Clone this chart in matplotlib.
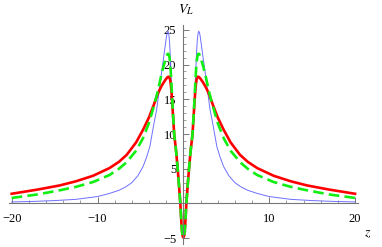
import numpy as np
import matplotlib
matplotlib.use('Agg')
import matplotlib.pyplot as plt

# values (right half, curves are symmetric in z)
z_blue = [0, 0.1, 0.2, 0.28, 0.35, 0.5, 0.66, 0.85, 1.07, 1.3, 1.48, 1.55, 1.62, 1.7, 1.79,
          1.88, 1.97, 2.08, 2.2, 2.5, 2.8, 3.1, 3.5, 3.9, 4.3, 4.7, 5.3, 6.0, 6.7, 7.5,
          8.6, 10, 12.5, 15, 17.5, 20]
v_blue = [-4.9, -4.6, -3.4, -1.6, 0, 2.5, 5, 7.6, 10, 15, 20, 22, 23.4, 24.4, 24.8,
          24.6, 24.0, 23.0, 21.9, 19.2, 16.4, 13.6, 11.0, 8.2, 6.6, 5.3, 4.0, 3.0, 2.4, 1.9,
          1.45, 1.0, 0.6, 0.42, 0.3, 0.22]

z_red = [0, 0.1, 0.2, 0.28, 0.35, 0.5, 0.66, 0.85, 1.07, 1.3, 1.38, 1.45, 1.52, 1.6, 1.7,
         1.82, 2.0, 2.25, 2.5, 2.75, 3.0, 3.5, 4.0, 4.7, 5.5, 6.6, 7.5, 8.6, 10.5, 12.5,
         14.4, 17, 20]
v_red = [-4.9, -4.6, -3.4, -1.6, 0, 2.5, 5, 7.6, 10, 14.6, 16.0, 17.0, 17.7, 18.1, 18.25,
         18.2, 17.95, 17.5, 17.0, 16.4, 15.7, 14.0, 12.4, 10.6, 8.8, 7.0, 6.0, 5.1, 4.0, 3.2,
         2.6, 2.0, 1.4]

z_green = [0, 0.1, 0.2, 0.28, 0.35, 0.5, 0.66, 0.85, 1.07, 1.3, 1.4, 1.48, 1.56, 1.64,
           1.74, 1.85, 2.0, 2.3, 2.6, 2.95, 3.3, 4.0, 4.7, 5.5, 6.65, 7.5, 8.6, 10.5, 12.5,
           14.4, 17, 20]
v_green = [-4.9, -4.6, -3.4, -1.6, 0, 2.5, 5, 7.6, 10, 15, 17.5, 19.2, 20.5, 21.2,
           21.55, 21.5, 21.0, 19.8, 18.3, 16.3, 14.6, 11.6, 9.4, 7.6, 5.9, 5.0, 4.1, 3.1, 2.4,
           1.9, 1.3, 0.8]

x_ticks = [-20, -10, 10, 20]
y_ticks = [-5, 5, 10, 15, 20, 25]


def full(z, v):
    z = np.array(z)
    v = np.array(v)
    return np.concatenate([-z[:0:-1], z]), np.concatenate([v[:0:-1], v])


fig = plt.figure(figsize=(3.82, 2.47), dpi=100)
# axes placed so that z=-20..20 and V=-5..25 land where they are in the reference
ax = fig.add_axes([9.1 / 382, 2.5 / 247, (357.6 - 9.1) / 382, (244.5 - 24.9) / 247])
ax.set_xlim(-20.3, 20.3)
ax.set_ylim(-5.9, 25.7)

zb, vb = full(z_blue, v_blue)
zr, vr = full(z_red, v_red)
zg, vg = full(z_green, v_green)
ax.plot(zb, vb, color='#6f6fff', lw=0.7, solid_joinstyle='round')
ax.plot(zr, vr, color='#ff0000', lw=1.9, solid_joinstyle='round')
ax.plot(zg, vg, color='#11ee11', lw=1.9, dashes=(4, 2), dash_joinstyle='round')

for s in ['top', 'right']:
    ax.spines[s].set_visible(False)
ax.spines['left'].set_position(('data', 0))
ax.spines['bottom'].set_position(('data', 0))
for s in ['left', 'bottom']:
    ax.spines[s].set_color('#777777')
    ax.spines[s].set_linewidth(0.8)

ax.set_xticks(x_ticks)
ax.set_xticklabels(['\u2212' + str(-t) if t < 0 else str(t) for t in x_ticks])
ax.set_xticks(np.arange(-20, 21, 2), minor=True)
ax.set_yticks(y_ticks)
ax.set_yticklabels(['\u2212' + str(-t) if t < 0 else str(t) for t in y_ticks])
ax.set_yticks(np.arange(-5, 26, 1), minor=True)
ax.tick_params(which='both', direction='in', colors='#777777', labelcolor='black',
               labelsize=9)
ax.tick_params(which='major', length=4, width=0.7)
ax.tick_params(which='minor', length=2, width=0.5)
ax.tick_params(axis='x', pad=7)
ax.tick_params(axis='y', pad=5)
for lab in ax.get_xticklabels() + ax.get_yticklabels():
    lab.set_family('Liberation Serif')
ax.patch.set_alpha(0)

fig.text(186 / 382, 1 - 10 / 247, '$V_L$', ha='center', va='center', fontsize=10,
         family='Liberation Serif', math_fontfamily='stix')
fig.text(368 / 382, 1 - 233 / 247, '$z$', ha='center', va='center', fontsize=10,
         math_fontfamily='stix')

fig.savefig('out.png', dpi=100)
